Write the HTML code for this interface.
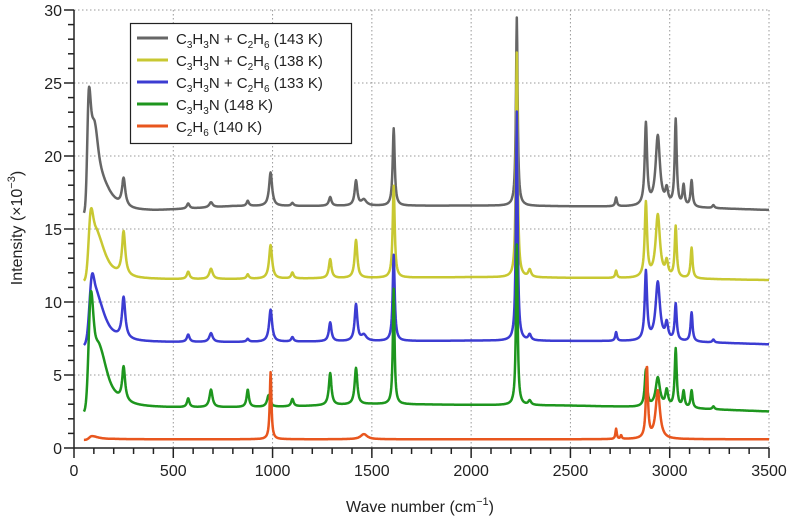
<!DOCTYPE html>
<html><head><meta charset="utf-8"><style>
html,body{margin:0;padding:0;background:#fff;}
svg{display:block;font-family:"Liberation Sans",sans-serif;}
</style></head><body>
<svg id="s" width="800" height="530" viewBox="0 0 800 530" xmlns="http://www.w3.org/2000/svg">
<rect x="0" y="0" width="800" height="530" fill="#fff"/>
<g id="grid" stroke="#999" stroke-width="1" stroke-dasharray="1.5,2.5" fill="none"></g>
<g id="series" fill="none" stroke-width="2.5" stroke-linejoin="round"></g>
<g id="axes" stroke="#222" stroke-width="1.5" fill="none"></g>
<g id="labels" font-size="16" fill="#222"></g>
<text x="420" y="512" font-size="16" text-anchor="middle" fill="#222">Wave number (cm<tspan dy="-7" font-size="11">−1</tspan><tspan dy="7">)</tspan></text>
<text transform="translate(22,228) rotate(-90)" font-size="16" text-anchor="middle" fill="#222">Intensity (×10<tspan dy="-7" font-size="11">−3</tspan><tspan dy="7">)</tspan></text>
<g>
<rect x="130.5" y="23.5" width="221" height="120" fill="#fff" stroke="#222" stroke-width="1.2"/>
<g stroke-width="3">
<line x1="137" y1="38" x2="168" y2="38" stroke="#666"/>
<line x1="137" y1="60" x2="168" y2="60" stroke="#c8c832"/>
<line x1="137" y1="82" x2="168" y2="82" stroke="#3c3cd2"/>
<line x1="137" y1="104" x2="168" y2="104" stroke="#1e961e"/>
<line x1="137" y1="126" x2="168" y2="126" stroke="#e8561e"/>
</g>
<g font-size="15" fill="#222">
<text x="176" y="44">C<tspan font-size="10" dy="4">3</tspan><tspan dy="-4">H</tspan><tspan font-size="10" dy="4">3</tspan><tspan dy="-4">N + C</tspan><tspan font-size="10" dy="4">2</tspan><tspan dy="-4">H</tspan><tspan font-size="10" dy="4">6</tspan><tspan dy="-4"> (143 K)</tspan></text>
<text x="176" y="66">C<tspan font-size="10" dy="4">3</tspan><tspan dy="-4">H</tspan><tspan font-size="10" dy="4">3</tspan><tspan dy="-4">N + C</tspan><tspan font-size="10" dy="4">2</tspan><tspan dy="-4">H</tspan><tspan font-size="10" dy="4">6</tspan><tspan dy="-4"> (138 K)</tspan></text>
<text x="176" y="88">C<tspan font-size="10" dy="4">3</tspan><tspan dy="-4">H</tspan><tspan font-size="10" dy="4">3</tspan><tspan dy="-4">N + C</tspan><tspan font-size="10" dy="4">2</tspan><tspan dy="-4">H</tspan><tspan font-size="10" dy="4">6</tspan><tspan dy="-4"> (133 K)</tspan></text>
<text x="176" y="110">C<tspan font-size="10" dy="4">3</tspan><tspan dy="-4">H</tspan><tspan font-size="10" dy="4">3</tspan><tspan dy="-4">N (148 K)</tspan></text>
<text x="176" y="132">C<tspan font-size="10" dy="4">2</tspan><tspan dy="-4">H</tspan><tspan font-size="10" dy="4">6</tspan><tspan dy="-4"> (140 K)</tspan></text>
</g>
</g>
</svg>
<script>
(function(){
var NS="http://www.w3.org/2000/svg";
var X0=74,X1=769,Y0=448,Y1=10;
function px(x){return X0+(X1-X0)*x/3500;}
function py(y){return Y0-(Y0-Y1)*y/30;}
function el(p,t,a){var e=document.createElementNS(NS,t);for(var k in a)e.setAttribute(k,a[k]);p.appendChild(e);return e;}
var g=document.getElementById('grid'),ax=document.getElementById('axes'),lb=document.getElementById('labels');
for(var v=500;v<=3500;v+=500)el(g,'line',{x1:px(v),y1:Y1,x2:px(v),y2:Y0});
for(var v=5;v<=30;v+=5)el(g,'line',{x1:X0,y1:py(v),x2:X1,y2:py(v)});
el(ax,'line',{x1:X0,y1:Y1,x2:X0,y2:Y0});
el(ax,'line',{x1:X0,y1:Y0,x2:X1,y2:Y0});
for(var v=0;v<=3500;v+=100){var big=v%500==0;el(ax,'line',{x1:px(v),y1:Y0,x2:px(v),y2:Y0+(big?10:6)});}
for(var v=0;v<=30;v+=1){var big=v%5==0;el(ax,'line',{x1:X0,y1:py(v),x2:X0-(big?10:6),y2:py(v)});}
for(var v=0;v<=3500;v+=500){var t=el(lb,'text',{x:px(v),y:476,'text-anchor':'middle'});t.textContent=v;}
for(var v=0;v<=30;v+=5){var t=el(lb,'text',{x:62,y:py(v)+6,'text-anchor':'end'});t.textContent=v;}
function L(x,x0,h,w){
  if(x0<200 && x<x0){var gw=Math.min(w,(x0-50)/2.2)||1;var dd=(x-x0)/gw;return h*Math.exp(-dd*dd);}
  var d=(x-x0)/w;return h/(1+d*d);}
function interp(pts,x){for(var i=1;i<pts.length;i++){if(x<=pts[i][0]){var a=pts[i-1],b=pts[i];return a[1]+(b[1]-a[1])*(x-a[0])/(b[0]-a[0]);}}return pts[pts.length-1][1];}
var S=[
{c:'#666',base:[[50,16.0],[200,16.1],[400,16.2],[800,16.55],[2000,16.6],[3000,16.5],[3500,16.3]],
 p:[[75,7.5,14],[105,4.5,25],[150,1.2,60],[250,1.9,10],[575,0.35,8],[690,0.35,10],[875,0.35,7],[990,2.3,9],[1100,0.2,7],[1290,0.6,8],[1420,1.7,8],[1460,0.4,15],[1610,5.3,6],[2230,12.9,5],[2730,0.6,5],[2880,5.6,7],[2940,4.8,13],[2985,1,8],[3030,5.9,6],[3070,1.4,6],[3110,1.8,6],[3220,0.2,6]]},
{c:'#c8c832',base:[[50,11.4],[250,11.5],[2000,11.7],[3000,11.6],[3500,11.5]],
 p:[[85,4.2,18],[120,2.5,50],[250,3,10],[575,0.5,8],[690,0.7,10],[875,0.3,7],[990,2.3,9],[1100,0.4,7],[1290,1.3,8],[1420,2.6,8],[1610,6.3,6],[2230,15.4,5],[2295,0.5,8],[2730,0.5,5],[2880,5.1,7],[2940,4.3,13],[2985,1,8],[3030,3.5,6],[3110,2.1,6]]},
{c:'#3c3cd2',base:[[50,7.0],[250,7.2],[2000,7.35],[3000,7.3],[3500,7.1]],
 p:[[90,3.8,18],[120,2.5,50],[250,2.8,10],[575,0.5,8],[690,0.6,10],[875,0.2,7],[990,2.2,9],[1100,0.3,7],[1290,1.3,8],[1420,2.5,8],[1460,0.4,15],[1610,5.9,6],[2230,15.7,5],[2295,0.4,8],[2730,0.6,5],[2880,4.7,7],[2940,4.0,13],[2985,1.1,8],[3030,2.5,6],[3110,2.0,6],[3220,0.2,6]]},
{c:'#1e961e',base:[[50,2.4],[250,2.7],[1000,2.8],[1500,3.0],[2500,2.9],[3000,2.75],[3500,2.5]],
 p:[[85,7.5,18],[130,3.5,50],[250,2.3,9],[575,0.6,7],[690,1.2,9],[875,1.2,7],[980,0.8,9],[1100,0.5,7],[1290,2.2,8],[1420,2.5,8],[1610,7.9,5],[2230,11,5],[2295,0.3,8],[2880,2.5,7],[2940,2,13],[2985,1.1,8],[3030,4.0,6],[3070,1.1,6],[3110,1.2,6],[3220,0.2,6]]},
{c:'#e8561e',base:[[50,0.55],[200,0.6],[3500,0.6]],
 p:[[90,0.25,40],[990,4.6,5],[1460,0.35,20],[2730,0.7,4],[2755,0.25,4],[2885,4.9,6],[2940,3.3,13]]}
];
var sg=document.getElementById('series');
S.forEach(function(s){var d='';for(var x=50;x<=3500;x+=2){var y=interp(s.base,x);s.p.forEach(function(q){y+=L(x,q[0],q[1],q[2]);});d+=(x==50?'M':'L')+px(x).toFixed(1)+','+py(y).toFixed(1);}
el(sg,'path',{d:d,stroke:s.c});});
})();
</script>
</body></html>
